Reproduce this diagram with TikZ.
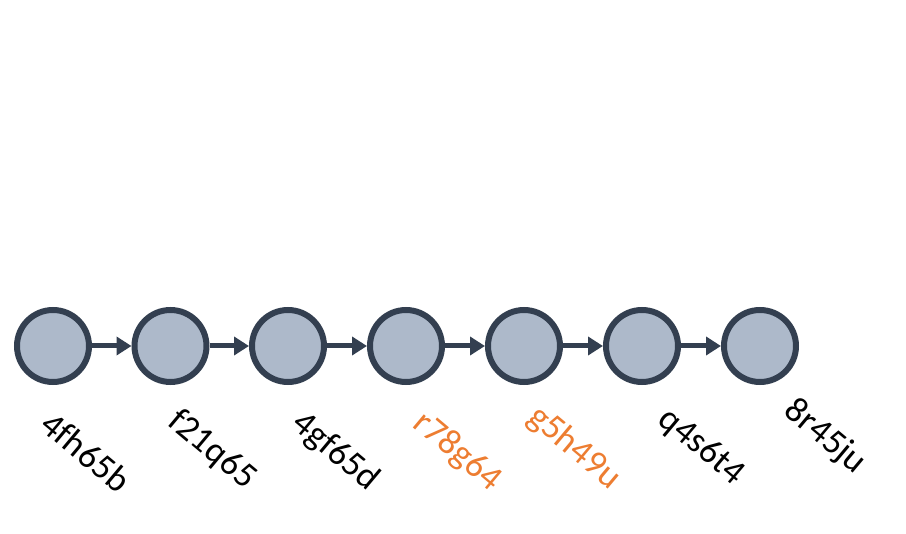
\documentclass[tikz,border=0pt]{standalone}
\usepackage{fontspec}
\setmainfont{Carlito}[Ligatures=NoCommon]
\usetikzlibrary{arrows.meta}

\definecolor{commitfill}{HTML}{ADB9CA}
\definecolor{commitline}{HTML}{333F50}
\definecolor{hashorange}{HTML}{ED7D31}

\tikzset{
  commit/.style={circle, draw=commitline, fill=commitfill, line width=6pt,
    minimum size=72pt, inner sep=0pt},
  hash/.style={rotate=-40, inner sep=0pt, font=\fontsize{36}{40}\selectfont},
  link/.style={draw=commitline, line width=5pt, -{Triangle[length=15pt,width=18pt]}}
}

\begin{document}
\begin{tikzpicture}[x=1pt,y=-1pt]
  \useasboundingbox (0,0) rectangle (906,534);

  % commits
  \node[commit] (c1) at (53,346) {};
  \node[commit] (c2) at (170.5,346) {};
  \node[commit] (c3) at (288,346) {};
  \node[commit] (c4) at (406,346) {};
  \node[commit] (c5) at (524,346) {};
  \node[commit] (c6) at (642,346) {};
  \node[commit] (c7) at (760,346) {};

  \foreach \a/\b in {c1/c2,c2/c3,c3/c4,c4/c5,c5/c6,c6/c7}
    \draw[link] (\a) -- (\b);

  % hashes
  \node[hash] (h1) at (86,452) {4fh65b};
  \node[hash] (h2) at (212,450) {f21q65};
  \node[hash] (h3) at (335,452) {4gf65d};
  \node[hash, text=hashorange] (h4) at (457,452) {r78g64};
  \node[hash, text=hashorange] (h5) at (574,448) {g5h49u};
  \node[hash] (h6) at (701,447) {q4s6t4};
  \node[hash] (h7) at (825,437) {8r45ju};
\end{tikzpicture}
\end{document}
